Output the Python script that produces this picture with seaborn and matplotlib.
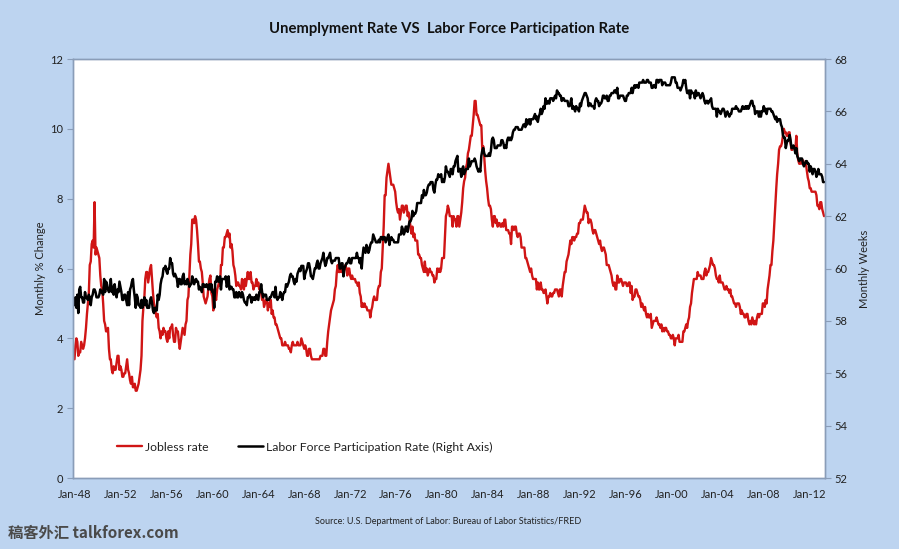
# ==========================================
# Unemployment Rate VS Labor Force Participation Rate
# ==========================================

import pandas as pd
import matplotlib
matplotlib.use("Agg")
import matplotlib.pyplot as plt
import matplotlib.dates as mdates
import seaborn as sns

# ------------------------------------------
# Data (monthly, Jan 1948 - Apr 2013)
# ------------------------------------------

start_month = "1948-01-01"

# Jobless rate (%), left axis, one row per year
jobless_rate = [
    3.4, 3.8, 4.0, 3.9, 3.5, 3.6, 3.6, 3.9, 3.8, 3.7, 3.8, 4.0,   # 1948
    4.3, 4.7, 5.0, 5.3, 6.1, 6.2, 6.7, 6.8, 6.6, 7.9, 6.4, 6.6,   # 1949
    6.5, 6.4, 6.3, 5.8, 5.5, 5.4, 5.0, 4.5, 4.4, 4.2, 4.2, 4.3,   # 1950
    3.7, 3.4, 3.4, 3.1, 3.0, 3.2, 3.1, 3.1, 3.3, 3.5, 3.5, 3.1,   # 1951
    3.2, 3.1, 2.9, 2.9, 3.0, 3.0, 3.2, 3.4, 3.1, 3.0, 2.8, 2.7,   # 1952
    2.9, 2.6, 2.6, 2.7, 2.5, 2.5, 2.6, 2.7, 2.9, 3.1, 3.5, 4.5,   # 1953
    4.9, 5.2, 5.7, 5.9, 5.9, 5.6, 5.8, 6.0, 6.1, 5.7, 5.3, 5.0,   # 1954
    4.9, 4.7, 4.6, 4.7, 4.3, 4.2, 4.0, 4.2, 4.1, 4.3, 4.2, 4.2,   # 1955
    4.0, 3.9, 4.2, 4.0, 4.3, 4.3, 4.4, 4.1, 3.9, 3.9, 4.3, 4.2,   # 1956
    4.2, 3.9, 3.7, 3.9, 4.1, 4.3, 4.2, 4.1, 4.4, 4.5, 5.1, 5.2,   # 1957
    5.8, 6.4, 6.7, 7.4, 7.4, 7.3, 7.5, 7.4, 7.1, 6.7, 6.2, 6.2,   # 1958
    6.0, 5.9, 5.6, 5.2, 5.1, 5.0, 5.1, 5.2, 5.5, 5.7, 5.8, 5.3,   # 1959
    5.2, 4.8, 5.4, 5.2, 5.1, 5.4, 5.5, 5.6, 5.5, 6.1, 6.1, 6.6,   # 1960
    6.6, 6.9, 6.9, 7.0, 7.1, 6.9, 7.0, 6.6, 6.7, 6.5, 6.1, 6.0,   # 1961
    5.8, 5.5, 5.6, 5.6, 5.5, 5.5, 5.4, 5.7, 5.6, 5.4, 5.7, 5.5,   # 1962
    5.7, 5.9, 5.7, 5.7, 5.9, 5.6, 5.6, 5.4, 5.5, 5.5, 5.7, 5.5,   # 1963
    5.6, 5.4, 5.4, 5.3, 5.1, 5.2, 4.9, 5.0, 5.1, 5.1, 4.8, 5.0,   # 1964
    4.9, 5.1, 4.7, 4.8, 4.6, 4.6, 4.4, 4.4, 4.3, 4.2, 4.1, 4.0,   # 1965
    4.0, 3.8, 3.8, 3.8, 3.9, 3.8, 3.8, 3.8, 3.7, 3.7, 3.6, 3.8,   # 1966
    3.9, 3.8, 3.8, 3.8, 3.8, 3.9, 3.8, 3.8, 3.8, 4.0, 3.9, 3.8,   # 1967
    3.7, 3.8, 3.7, 3.5, 3.5, 3.7, 3.7, 3.5, 3.4, 3.4, 3.4, 3.4,   # 1968
    3.4, 3.4, 3.4, 3.4, 3.4, 3.5, 3.5, 3.5, 3.7, 3.7, 3.5, 3.5,   # 1969
    3.9, 4.2, 4.4, 4.6, 4.8, 4.9, 5.0, 5.1, 5.4, 5.5, 5.9, 6.1,   # 1970
    5.9, 5.9, 6.0, 5.9, 5.9, 5.9, 6.0, 6.1, 6.0, 5.8, 6.0, 6.0,   # 1971
    5.8, 5.7, 5.8, 5.7, 5.7, 5.7, 5.6, 5.6, 5.5, 5.6, 5.3, 5.2,   # 1972
    4.9, 5.0, 4.9, 5.0, 4.9, 4.9, 4.8, 4.8, 4.8, 4.6, 4.8, 4.9,   # 1973
    5.1, 5.2, 5.1, 5.1, 5.1, 5.4, 5.5, 5.5, 5.9, 6.0, 6.6, 7.2,   # 1974
    8.1, 8.1, 8.6, 8.8, 9.0, 8.8, 8.6, 8.4, 8.4, 8.4, 8.3, 8.2,   # 1975
    7.9, 7.7, 7.6, 7.7, 7.4, 7.6, 7.8, 7.8, 7.6, 7.7, 7.8, 7.8,   # 1976
    7.5, 7.6, 7.4, 7.2, 7.0, 7.2, 6.9, 7.0, 6.8, 6.8, 6.8, 6.4,   # 1977
    6.4, 6.3, 6.3, 6.1, 6.0, 5.9, 6.2, 5.9, 6.0, 5.8, 5.9, 6.0,   # 1978
    5.9, 5.9, 5.8, 5.8, 5.6, 5.7, 5.7, 6.0, 5.9, 6.0, 5.9, 6.0,   # 1979
    6.3, 6.3, 6.3, 6.9, 7.5, 7.6, 7.8, 7.7, 7.5, 7.5, 7.5, 7.2,   # 1980
    7.5, 7.4, 7.4, 7.2, 7.5, 7.5, 7.2, 7.4, 7.6, 7.9, 8.3, 8.5,   # 1981
    8.6, 8.9, 9.0, 9.3, 9.4, 9.6, 9.8, 9.8, 10.1, 10.4, 10.8, 10.8,  # 1982
    10.4, 10.4, 10.3, 10.2, 10.1, 10.1, 9.4, 9.5, 9.2, 8.8, 8.5, 8.3,  # 1983
    8.0, 7.8, 7.8, 7.7, 7.4, 7.2, 7.5, 7.5, 7.3, 7.4, 7.2, 7.3,   # 1984
    7.3, 7.2, 7.2, 7.3, 7.2, 7.4, 7.4, 7.1, 7.1, 7.1, 7.0, 7.0,   # 1985
    6.7, 7.2, 7.2, 7.1, 7.2, 7.2, 7.0, 6.9, 7.0, 7.0, 6.9, 6.6,   # 1986
    6.6, 6.6, 6.6, 6.3, 6.3, 6.2, 6.1, 6.0, 5.9, 6.0, 5.8, 5.7,   # 1987
    5.7, 5.7, 5.7, 5.4, 5.6, 5.4, 5.4, 5.6, 5.4, 5.4, 5.3, 5.3,   # 1988
    5.4, 5.2, 5.0, 5.2, 5.2, 5.3, 5.2, 5.2, 5.3, 5.3, 5.4, 5.4,   # 1989
    5.4, 5.3, 5.2, 5.4, 5.4, 5.2, 5.5, 5.7, 5.9, 5.9, 6.2, 6.3,   # 1990
    6.4, 6.6, 6.8, 6.7, 6.9, 6.9, 6.8, 6.9, 6.9, 7.0, 7.0, 7.3,   # 1991
    7.3, 7.4, 7.4, 7.4, 7.6, 7.8, 7.7, 7.6, 7.6, 7.3, 7.4, 7.4,   # 1992
    7.3, 7.1, 7.0, 7.1, 7.1, 7.0, 6.9, 6.8, 6.7, 6.8, 6.6, 6.5,   # 1993
    6.6, 6.6, 6.5, 6.4, 6.1, 6.1, 6.1, 6.0, 5.9, 5.8, 5.6, 5.5,   # 1994
    5.6, 5.4, 5.4, 5.8, 5.6, 5.6, 5.7, 5.7, 5.6, 5.5, 5.6, 5.6,   # 1995
    5.6, 5.5, 5.5, 5.6, 5.6, 5.3, 5.5, 5.1, 5.2, 5.2, 5.4, 5.4,   # 1996
    5.3, 5.2, 5.2, 5.1, 4.9, 5.0, 4.9, 4.8, 4.9, 4.7, 4.6, 4.7,   # 1997
    4.6, 4.6, 4.7, 4.3, 4.4, 4.5, 4.5, 4.5, 4.6, 4.5, 4.4, 4.4,   # 1998
    4.3, 4.4, 4.2, 4.3, 4.2, 4.3, 4.3, 4.2, 4.2, 4.1, 4.1, 4.0,   # 1999
    4.0, 4.1, 4.0, 3.8, 4.0, 4.0, 4.0, 4.1, 3.9, 3.9, 3.9, 3.9,   # 2000
    4.2, 4.2, 4.3, 4.4, 4.3, 4.5, 4.6, 4.9, 5.0, 5.3, 5.5, 5.7,   # 2001
    5.7, 5.7, 5.7, 5.9, 5.8, 5.8, 5.8, 5.7, 5.7, 5.7, 5.9, 6.0,   # 2002
    5.8, 5.9, 5.9, 6.0, 6.1, 6.3, 6.2, 6.1, 6.1, 6.0, 5.8, 5.7,   # 2003
    5.7, 5.6, 5.8, 5.6, 5.6, 5.6, 5.5, 5.4, 5.4, 5.5, 5.4, 5.4,   # 2004
    5.3, 5.4, 5.2, 5.2, 5.1, 5.0, 5.0, 4.9, 5.0, 5.0, 5.0, 4.9,   # 2005
    4.7, 4.8, 4.7, 4.7, 4.6, 4.6, 4.7, 4.7, 4.5, 4.4, 4.5, 4.4,   # 2006
    4.6, 4.5, 4.4, 4.5, 4.4, 4.6, 4.7, 4.6, 4.7, 4.7, 4.7, 5.0,   # 2007
    5.0, 4.9, 5.1, 5.0, 5.4, 5.6, 5.8, 6.1, 6.1, 6.5, 6.8, 7.3,   # 2008
    7.8, 8.3, 8.7, 9.0, 9.4, 9.5, 9.5, 9.6, 9.8, 10.0, 9.9, 9.9,  # 2009
    9.8, 9.8, 9.9, 9.9, 9.6, 9.4, 9.4, 9.5, 9.5, 9.4, 9.8, 9.3,   # 2010
    9.1, 9.0, 9.0, 9.1, 9.0, 9.1, 9.0, 9.0, 9.0, 8.8, 8.6, 8.5,   # 2011
    8.3, 8.3, 8.2, 8.2, 8.2, 8.2, 8.2, 8.1, 7.8, 7.8, 7.7, 7.9,   # 2012
    7.9, 7.7, 7.6, 7.5,                                           # 2013
]

# Labor force participation rate (%), right axis, one row per year
participation_rate = [
    58.6, 58.9, 58.5, 59.0, 58.3, 59.2, 59.3, 58.9, 58.9, 58.7, 58.7, 59.1,  # 1948
    58.9, 58.9, 58.8, 59.0, 58.9, 58.6, 58.9, 59.0, 59.2, 59.2, 59.1, 58.9,  # 1949
    58.9, 58.9, 59.0, 59.2, 59.1, 59.1, 59.0, 59.6, 59.1, 59.5, 59.4, 59.2,  # 1950
    59.1, 59.2, 59.6, 59.1, 59.3, 59.0, 59.4, 59.1, 58.9, 59.2, 59.1, 59.5,  # 1951
    59.3, 59.1, 58.8, 58.8, 59.0, 59.0, 58.8, 58.6, 59.1, 58.6, 59.2, 59.3,  # 1952
    59.5, 59.6, 59.2, 58.9, 58.5, 59.0, 58.9, 58.6, 58.6, 58.5, 58.8, 58.5,  # 1953
    58.7, 58.9, 58.6, 58.8, 58.5, 58.5, 58.5, 58.8, 58.9, 58.7, 58.4, 58.3,  # 1954
    58.5, 58.4, 58.4, 59.0, 58.8, 59.0, 59.4, 59.6, 59.7, 60.0, 60.0, 60.1,  # 1955
    59.9, 59.8, 60.0, 60.0, 60.4, 60.2, 60.2, 59.8, 59.7, 59.8, 59.7, 59.6,  # 1956
    59.3, 59.6, 59.6, 59.4, 59.4, 59.7, 59.8, 59.4, 59.5, 59.4, 59.6, 59.5,  # 1957
    59.3, 59.4, 59.4, 59.7, 59.6, 59.4, 59.5, 59.6, 59.5, 59.5, 59.2, 59.3,  # 1958
    59.2, 59.1, 59.4, 59.4, 59.3, 59.3, 59.4, 59.3, 59.2, 59.4, 59.2, 59.4,  # 1959
    59.1, 59.1, 58.5, 59.5, 59.5, 59.7, 59.5, 59.5, 59.7, 59.2, 59.6, 59.6,  # 1960
    59.6, 59.6, 59.7, 59.3, 59.4, 59.7, 59.2, 59.3, 59.3, 59.2, 59.2, 58.9,  # 1961
    58.9, 59.1, 58.9, 58.9, 59.1, 59.0, 58.9, 59.1, 59.0, 58.8, 58.7, 58.7,  # 1962
    58.6, 58.9, 58.9, 59.0, 58.9, 58.7, 58.9, 58.8, 58.9, 58.8, 59.0, 58.9,  # 1963
    58.8, 59.1, 59.1, 59.4, 59.1, 58.9, 59.0, 59.0, 59.0, 58.8, 58.8, 58.8,  # 1964
    58.9, 58.9, 59.0, 59.1, 59.1, 58.9, 59.3, 58.9, 58.8, 58.9, 58.9, 59.1,  # 1965
    59.0, 58.8, 59.0, 59.1, 59.1, 59.4, 59.3, 59.4, 59.5, 59.7, 59.8, 59.7,  # 1966
    59.7, 59.5, 59.4, 59.6, 59.5, 59.8, 59.9, 60.0, 59.9, 60.1, 60.1, 60.1,  # 1967
    59.6, 59.8, 59.9, 60.0, 60.2, 60.2, 60.0, 59.7, 59.7, 59.6, 59.8, 60.0,  # 1968
    60.0, 60.2, 60.3, 60.0, 60.0, 60.2, 60.3, 60.4, 60.6, 60.3, 60.1, 60.2,  # 1969
    60.4, 60.4, 60.5, 60.6, 60.3, 60.2, 60.3, 60.3, 60.3, 60.4, 60.4, 60.4,  # 1970
    60.4, 60.0, 60.0, 60.2, 60.2, 59.7, 60.0, 60.1, 60.2, 60.2, 60.3, 60.4,  # 1971
    60.2, 60.2, 60.4, 60.4, 60.4, 60.4, 60.4, 60.6, 60.4, 60.4, 60.2, 60.4,  # 1972
    60.0, 60.5, 60.8, 60.7, 60.6, 60.9, 60.8, 60.6, 60.7, 60.9, 61.0, 61.0,  # 1973
    61.3, 61.2, 61.1, 61.0, 61.0, 61.0, 61.1, 61.0, 61.2, 61.2, 61.1, 61.2,  # 1974
    61.2, 61.0, 61.1, 61.2, 61.3, 60.9, 61.1, 61.2, 61.1, 61.1, 61.0, 61.0,  # 1975
    61.0, 61.0, 61.0, 61.3, 61.3, 61.3, 61.6, 61.5, 61.3, 61.4, 61.6, 61.6,  # 1976
    61.4, 61.6, 61.8, 61.8, 61.9, 62.2, 62.0, 62.1, 62.1, 62.2, 62.5, 62.5,  # 1977
    62.5, 62.5, 62.5, 62.8, 62.7, 63.0, 62.8, 62.8, 62.9, 63.1, 63.2, 63.2,  # 1978
    63.3, 63.3, 63.3, 63.0, 62.9, 63.2, 63.4, 63.4, 63.6, 63.5, 63.5, 63.6,  # 1979
    63.3, 63.4, 63.3, 63.5, 63.9, 63.7, 63.7, 63.6, 63.5, 63.8, 63.8, 63.6,  # 1980
    63.9, 63.9, 64.1, 64.2, 64.3, 63.7, 63.8, 63.8, 63.5, 63.8, 63.9, 63.6,  # 1981
    63.7, 63.8, 63.8, 63.8, 64.2, 63.9, 64.0, 64.1, 64.1, 64.1, 64.2, 64.1,  # 1982
    63.9, 63.8, 63.7, 63.8, 63.7, 64.3, 64.5, 64.6, 64.4, 64.3, 64.3, 64.3,  # 1983
    64.3, 64.4, 64.3, 64.5, 64.9, 65.0, 64.9, 64.6, 64.6, 64.6, 64.7, 64.7,  # 1984
    64.7, 64.7, 64.9, 64.9, 64.8, 64.6, 64.7, 64.6, 64.9, 65.0, 64.9, 65.0,  # 1985
    64.9, 65.0, 65.2, 65.3, 65.3, 65.4, 65.4, 65.4, 65.3, 65.3, 65.3, 65.3,  # 1986
    65.4, 65.5, 65.5, 65.4, 65.7, 65.5, 65.6, 65.7, 65.5, 65.7, 65.7, 65.7,  # 1987
    65.8, 65.9, 65.7, 65.8, 65.6, 65.8, 65.9, 66.1, 65.9, 66.0, 66.2, 66.1,  # 1988
    66.5, 66.3, 66.3, 66.4, 66.3, 66.5, 66.5, 66.5, 66.4, 66.5, 66.6, 66.5,  # 1989
    66.8, 66.7, 66.7, 66.6, 66.6, 66.4, 66.5, 66.5, 66.4, 66.4, 66.4, 66.4,  # 1990
    66.2, 66.2, 66.3, 66.5, 66.1, 66.2, 66.1, 66.0, 66.2, 66.1, 66.1, 66.0,  # 1991
    66.3, 66.2, 66.4, 66.5, 66.6, 66.7, 66.7, 66.6, 66.5, 66.2, 66.3, 66.3,  # 1992
    66.2, 66.2, 66.2, 66.1, 66.4, 66.5, 66.4, 66.4, 66.2, 66.3, 66.3, 66.4,  # 1993
    66.6, 66.6, 66.5, 66.5, 66.6, 66.4, 66.4, 66.6, 66.6, 66.7, 66.7, 66.7,  # 1994
    66.8, 66.8, 66.7, 66.9, 66.5, 66.5, 66.6, 66.6, 66.6, 66.6, 66.5, 66.4,  # 1995
    66.4, 66.6, 66.6, 66.7, 66.7, 66.7, 66.9, 66.7, 66.9, 67.0, 66.9, 67.0,  # 1996
    67.0, 66.9, 67.1, 67.1, 67.1, 67.1, 67.2, 67.1, 67.1, 67.1, 67.2, 67.2,  # 1997
    67.1, 67.1, 67.1, 66.9, 66.9, 67.0, 67.0, 66.9, 67.2, 67.2, 67.1, 67.2,  # 1998
    67.2, 67.2, 67.0, 67.1, 67.1, 67.1, 67.0, 67.0, 67.0, 67.0, 67.0, 67.1,  # 1999
    67.3, 67.3, 67.3, 67.3, 67.1, 67.1, 66.9, 66.9, 66.9, 66.8, 66.9, 67.0,  # 2000
    67.2, 67.1, 67.2, 66.9, 66.7, 66.7, 66.8, 66.5, 66.8, 66.7, 66.7, 66.7,  # 2001
    66.5, 66.8, 66.6, 66.7, 66.7, 66.6, 66.5, 66.6, 66.7, 66.6, 66.4, 66.3,  # 2002
    66.4, 66.4, 66.3, 66.4, 66.4, 66.5, 66.2, 66.1, 66.1, 66.1, 66.1, 65.8,  # 2003
    66.1, 66.0, 66.0, 65.9, 66.0, 66.1, 66.1, 66.0, 65.8, 65.9, 66.0, 65.9,  # 2004
    65.8, 65.9, 65.9, 66.1, 66.1, 66.1, 66.1, 66.2, 66.1, 66.1, 66.0, 66.0,  # 2005
    66.0, 66.1, 66.2, 66.1, 66.1, 66.2, 66.1, 66.2, 66.1, 66.2, 66.3, 66.4,  # 2006
    66.4, 66.2, 66.2, 65.9, 66.0, 66.0, 66.0, 65.8, 66.0, 65.8, 66.0, 66.0,  # 2007
    66.2, 66.0, 66.1, 65.9, 66.1, 66.1, 66.1, 66.1, 66.0, 66.0, 65.9, 65.8,  # 2008
    65.7, 65.8, 65.6, 65.7, 65.7, 65.7, 65.5, 65.4, 65.1, 65.0, 65.0, 64.6,  # 2009
    64.8, 64.9, 64.9, 65.1, 64.9, 64.6, 64.6, 64.7, 64.6, 64.4, 64.6, 64.3,  # 2010
    64.2, 64.1, 64.2, 64.2, 64.2, 64.0, 63.9, 64.0, 64.1, 64.1, 64.0, 64.0,  # 2011
    63.7, 63.9, 63.8, 63.6, 63.8, 63.8, 63.7, 63.5, 63.6, 63.8, 63.6, 63.6,  # 2012
    63.6, 63.5, 63.3, 63.3,                                                  # 2013
]

df = pd.DataFrame({
    "Month": pd.date_range(start_month, periods=len(jobless_rate), freq="MS"),
    "Jobless": jobless_rate,
    "LFPR": participation_rate,
})

# ------------------------------------------
# Style
# ------------------------------------------
sns.set_style("white")
plt.rcParams["font.family"] = ["Lato", "DejaVu Sans"]

bg = "#BDD4F0"
spine = "#8A9DB8"
text_col = "#222222"

fig = plt.figure(figsize=(8.99, 5.49), dpi=100, facecolor=bg)
ax = fig.add_axes([0.0812, 0.1293, 0.8365, 0.7632])
ax.set_facecolor("white")
ax2 = ax.twinx()

# ------------------------------------------
# Lines
# ------------------------------------------
sns.lineplot(data=df, x="Month", y="Jobless", ax=ax, color="#D01515",
             linewidth=1.7, label="Jobless rate", legend=False)
sns.lineplot(data=df, x="Month", y="LFPR", ax=ax2, color="black",
             linewidth=1.8, label="Labor Force Participation Rate (Right Axis)",
             legend=False)

# ------------------------------------------
# Axes
# ------------------------------------------
ax.set_ylim(0, 12)
ax.set_yticks(range(0, 13, 2))
ax2.set_ylim(52, 68)
ax2.set_yticks(range(52, 69, 2))
ax.set_xlim(pd.Timestamp("1947-11-15"), pd.Timestamp("2013-05-01"))

ax.xaxis.set_major_locator(mdates.YearLocator(4, month=1, day=1))
ax.xaxis.set_major_formatter(mdates.DateFormatter("Jan-%y"))

ax.set_xlabel("")
ax.set_ylabel("Monthly % Change", fontsize=8, color=text_col, labelpad=3)
ax2.set_ylabel("Monthly Weeks", fontsize=8, color=text_col, labelpad=8)

for a in (ax, ax2):
    a.tick_params(axis="both", labelsize=8, labelcolor=text_col, color=spine,
                  direction="out", length=4, width=0.8, pad=3)
    for s in a.spines.values():
        s.set_color(spine)
        s.set_linewidth(1.0)
ax.tick_params(axis="x", length=3, pad=5)

# ------------------------------------------
# Legend
# ------------------------------------------
h1, l1 = ax.get_legend_handles_labels()
h2, l2 = ax2.get_legend_handles_labels()
ax2.legend(h1 + h2, l1 + l2, loc="center left", bbox_to_anchor=(0.058, 0.074),
           ncol=2, frameon=False, fontsize=8.8, handlelength=2.05,
           handletextpad=0.25, columnspacing=2.4, borderpad=0, borderaxespad=0,
           labelcolor=text_col)

# ------------------------------------------
# Titles and notes
# ------------------------------------------
fig.text(0.5, 0.947, "Unemplyment Rate VS  Labor Force Participation Rate",
         ha="center", va="center", fontsize=10.7, fontweight="bold", color="#111111")
fig.text(0.499, 0.051, "Source: U.S. Department of Labor: Bureau of Labor Statistics/FRED",
         ha="center", va="center", fontsize=6.5, color=text_col)
fig.text(0.009, 0.029, "稿客外汇 talkforex.com", ha="left", va="center",
         fontsize=11, fontweight="bold", color="#4A4A4A",
         family=["Noto Sans CJK SC", "DejaVu Sans"])

fig.savefig("out.png", dpi=100, facecolor=bg)
